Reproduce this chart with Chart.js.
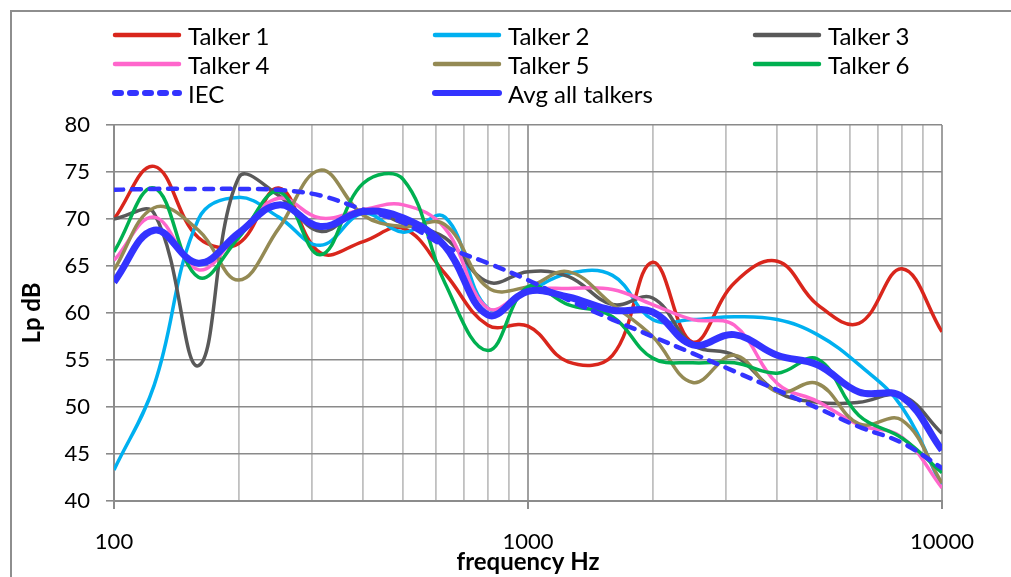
<!DOCTYPE html>
<html>
<head>
<meta charset="utf-8">
<script src="https://cdn.jsdelivr.net/npm/chart.js@4.4.1/dist/chart.umd.min.js"></script>
<style>
  html, body { margin: 0; padding: 0; background: #fff; overflow: hidden; }
  #wrap { position: relative; width: 1011px; height: 577px; overflow: hidden; }
  #chart { position: absolute; left: 0; top: 0; }
  #legend { position: absolute; left: 0; top: 0; width: 1011px; height: 110px; font-family: Lato, "Open Sans", sans-serif; font-size: 24px; color: #000; }
  .item { position: absolute; height: 28px; display: flex; align-items: center; white-space: nowrap; }
  .item svg { margin-right: 6px; }
</style>
</head>
<body>
<div id="wrap">
  <canvas id="chart" width="1011" height="577"></canvas>
  <div id="legend"></div>
</div>
<script>
// one-third octave band centre frequencies
const freqs = [100, 125, 160, 200, 250, 315, 400, 500, 630, 800, 1000, 1250, 1600, 2000, 2500, 3150, 4000, 5000, 6300, 8000, 10000];

const talker1 = [70.0, 75.6, 68.0, 67.4, 73.3, 66.4, 67.6, 69.0, 64.2, 58.7, 58.6, 54.8, 55.5, 65.4, 56.9, 63.2, 65.5, 60.9, 58.9, 64.7, 58.0];
const talker2 = [43.3, 52.3, 70.0, 72.3, 70.2, 67.2, 70.6, 68.6, 70.2, 60.5, 62.3, 64.2, 64.0, 59.3, 59.3, 59.6, 59.3, 57.7, 54.5, 50.0, 41.5];
const talker3 = [70.0, 70.6, 54.4, 74.4, 72.5, 68.7, 71.0, 69.5, 68.0, 63.3, 64.4, 63.9, 60.9, 61.6, 56.6, 55.5, 51.6, 50.5, 50.5, 51.2, 47.2];
const talker4 = [65.6, 70.2, 64.6, 68.5, 72.2, 70.1, 71.0, 71.5, 69.0, 60.5, 62.4, 62.6, 62.5, 60.9, 59.3, 58.7, 52.5, 50.6, 48.1, 46.8, 41.4];
const talker5 = [64.6, 71.2, 68.8, 63.5, 69.0, 75.2, 70.4, 69.2, 69.4, 62.7, 62.8, 64.4, 60.9, 57.5, 52.6, 55.5, 51.6, 52.5, 48.2, 48.6, 41.9];
const talker6 = [66.5, 73.3, 63.8, 68.0, 72.9, 66.2, 73.8, 74.2, 63.2, 56.0, 62.8, 60.9, 59.6, 55.2, 54.7, 54.7, 53.6, 55.1, 49.1, 46.7, 43.0];
const iec     = [73.1, 73.2, 73.2, 73.2, 73.1, 72.5, 71.0, 69.6, 67.1, 65.3, 63.5, 61.4, 59.3, 57.5, 55.7, 53.8, 51.8, 49.9, 47.9, 46.2, 43.5];
const avgAll  = [63.3, 68.8, 65.3, 68.5, 71.5, 69.2, 70.8, 70.1, 67.1, 59.8, 62.3, 61.7, 60.3, 60.1, 56.6, 57.7, 55.5, 54.5, 51.6, 51.1, 45.4];

const seriesNames = ['Talker 1', 'Talker 2', 'Talker 3', 'Talker 4', 'Talker 5', 'Talker 6', 'IEC', 'Avg all talkers'];
const seriesData = [talker1, talker2, talker3, talker4, talker5, talker6, iec, avgAll];
const seriesColors = ['#d9261c', '#00b0f0', '#595959', '#ff66cc', '#948a54', '#00b050', '#3333ff', '#3333ff'];

const xGridValues = [100, 200, 300, 400, 500, 600, 700, 800, 900, 1000, 2000, 3000, 4000, 5000, 6000, 7000, 8000, 9000, 10000];
const xLabelValues = [100, 1000, 10000];

const datasets = seriesData.map((vals, i) => {
  const isIec = seriesNames[i] === 'IEC';
  const isAvg = i === seriesData.length - 1;
  return {
    label: seriesNames[i],
    data: freqs.map((f, j) => ({ x: f, y: vals[j] })),
    borderColor: seriesColors[i],
    borderWidth: isAvg ? 7 : (isIec ? 4.5 : 3.5),
    borderDash: isIec ? [9, 9] : [],
    borderCapStyle: isIec ? 'round' : 'butt',
    borderJoinStyle: 'round',
    pointRadius: 0,
    fill: false,
    tension: 0.4,
    order: seriesData.length - i   // later series drawn on top
  };
});

const isMajor = v => xLabelValues.includes(v);

// grey outline of the chart object, open to the right and bottom
const chartFrame = {
  id: 'chartFrame',
  beforeDraw(chart) {
    const ctx = chart.ctx;
    ctx.save();
    ctx.strokeStyle = '#8e8e8e';
    ctx.lineWidth = 2;
    ctx.beginPath();
    ctx.moveTo(11, chart.height);
    ctx.lineTo(11, 11);
    ctx.lineTo(chart.width, 11);
    ctx.stroke();
    ctx.restore();
  }
};

new Chart(document.getElementById('chart'), {
  type: 'line',
  data: { datasets },
  plugins: [chartFrame],
  options: {
    responsive: false,
    animation: false,
    events: [],
    layout: { padding: { left: 14, right: 69, top: 125, bottom: 0 } },
    plugins: { legend: { display: false }, tooltip: { enabled: false } },
    scales: {
      x: {
        type: 'logarithmic',
        min: 100,
        max: 10000,
        afterBuildTicks: scale => { scale.ticks = xGridValues.map(v => ({ value: v })); },
        afterFit: scale => { scale.height = 76; },
        border: { color: '#8c8c8c', width: 2 },
        grid: {
          color: c => isMajor(c.tick.value) ? '#a0a0a0' : '#c0c0c0',
          lineWidth: c => isMajor(c.tick.value) ? 2 : 1.8,
          tickColor: c => isMajor(c.tick.value) ? '#8c8c8c' : 'rgba(0,0,0,0)',
          tickLength: 8
        },
        ticks: {
          autoSkip: false,
          maxRotation: 0,
          padding: 20,
          color: '#000',
          font: { family: 'Lato', size: 22 },
          callback: v => isMajor(v) ? String(v) : ''
        },
        title: {
          display: true,
          text: 'frequency Hz',
          color: '#000',
          font: { family: 'Lato', size: 24, weight: 'bold' },
          padding: { top: 0, bottom: 0 }
        }
      },
      y: {
        min: 40,
        max: 80,
        afterFit: scale => { scale.width = 100; },
        border: { color: '#8c8c8c', width: 2 },
        grid: { color: '#8a8a8a', lineWidth: 1.6, tickLength: 8 },
        ticks: {
          stepSize: 5,
          padding: 16,
          color: '#000',
          font: { family: 'Lato', size: 22 }
        },
        title: {
          display: true,
          text: 'Lp dB',
          color: '#000',
          font: { family: 'Lato', size: 24, weight: 'bold' },
          padding: { top: 4, bottom: 0 }
        }
      }
    }
  }
});

// three-column legend above the plot
const legendCols = [112, 432, 752];
const legendRows = [35, 64, 93];
const legend = document.getElementById('legend');
seriesNames.forEach((name, i) => {
  const item = document.createElement('div');
  item.className = 'item';
  item.style.left = legendCols[i % 3] + 'px';
  item.style.top = (legendRows[Math.floor(i / 3)] - 14) + 'px';
  const isIec = name === 'IEC';
  const isAvg = i === seriesNames.length - 1;
  const w = isAvg ? 6 : (isIec ? 6 : 4.5);
  const dash = isIec ? 'stroke-dasharray="6 9" stroke-linecap="round"' : 'stroke-linecap="round"';
  item.innerHTML = `<svg width="70" height="12"><line x1="3" y1="6" x2="67" y2="6" stroke="${seriesColors[i]}" stroke-width="${w}" ${dash}/></svg><span>${name}</span>`;
  legend.appendChild(item);
});
</script>
</body>
</html>
